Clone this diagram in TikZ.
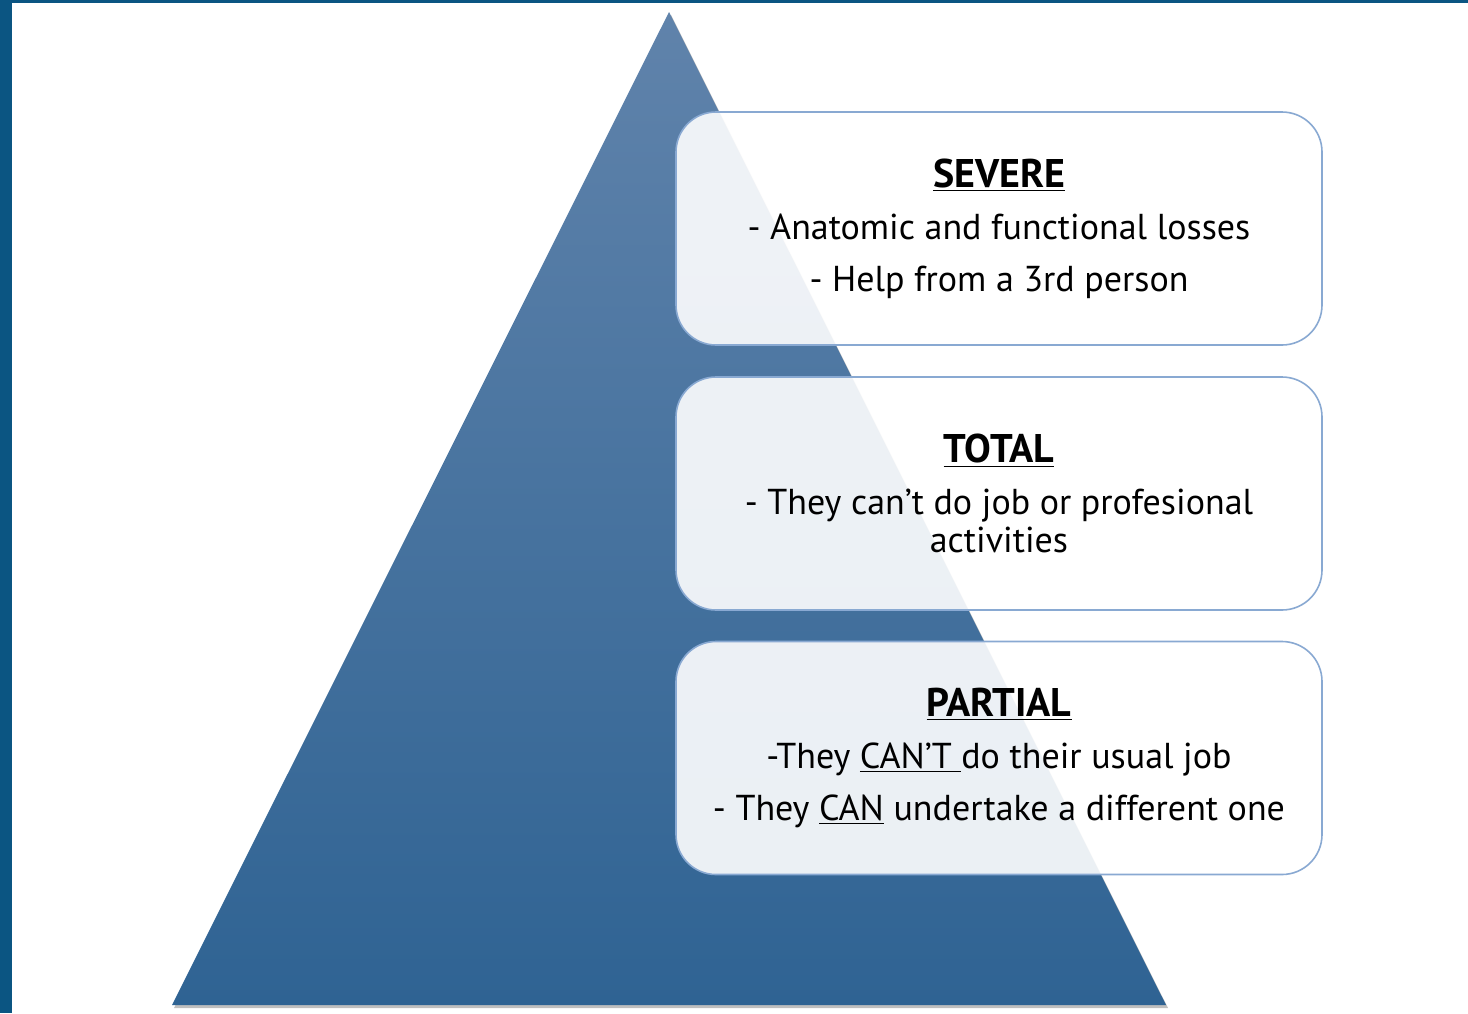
\documentclass[tikz,border=0pt]{standalone}
\usepackage{fontspec}
\setmainfont{PT Sans}
\usetikzlibrary{calc}
\definecolor{frame}{HTML}{0B5582}
\definecolor{pyrtop}{HTML}{6083AB}
\definecolor{pyrbot}{HTML}{2F6393}
\definecolor{boxline}{HTML}{89A9D2}
\newcommand{\headline}[1]{{\fontsize{20}{19}\selectfont\bfseries\underline{#1}}}

\begin{document}
\begin{tikzpicture}[x=0.5pt,y=-0.5pt]
  \tikzset{box/.style={draw=boxline,line width=0.8pt,rounded corners=20pt,fill=white,fill opacity=0.9,text opacity=1,minimum width=323pt,minimum height=116.5pt,align=center,font=\fontsize{18}{19}\selectfont}};
  \useasboundingbox (0,0) rectangle (1468,1013);
  \fill[white] (0,0) rectangle (1468,1013);
  \fill[frame] (0,0) rectangle (12,1013);
  \fill[frame] (0,0) rectangle (1468,3);
  \coordinate (A) at (669,12);
  \coordinate (L) at (172,1005);
  \coordinate (R) at (1166,1005);
  \fill[black,opacity=0.25] ($(A)+(2,3)$) -- ($(L)+(2,3)$) -- ($(R)+(2,3)$) -- cycle;
  \shade[top color=pyrtop,bottom color=pyrbot] (A) -- (L) -- (R) -- cycle;
  \node[box] (S) at (999,228.5) {\headline{SEVERE}\\[7pt]
    - Anatomic and functional losses\\[7pt]
    - Help from a 3rd person};
  \node[box] (T) at (999,493.5) {\headline{TOTAL}\\[7pt]
    - They can’t do job or profesional\\
    activities};
  \node[box] (P) at (999,758) {\headline{PARTIAL}\\[7pt]
    -They \underline{CAN’T }do their usual job\\[7pt]
    - They \underline{CAN} undertake a different one};
\end{tikzpicture}
\end{document}
